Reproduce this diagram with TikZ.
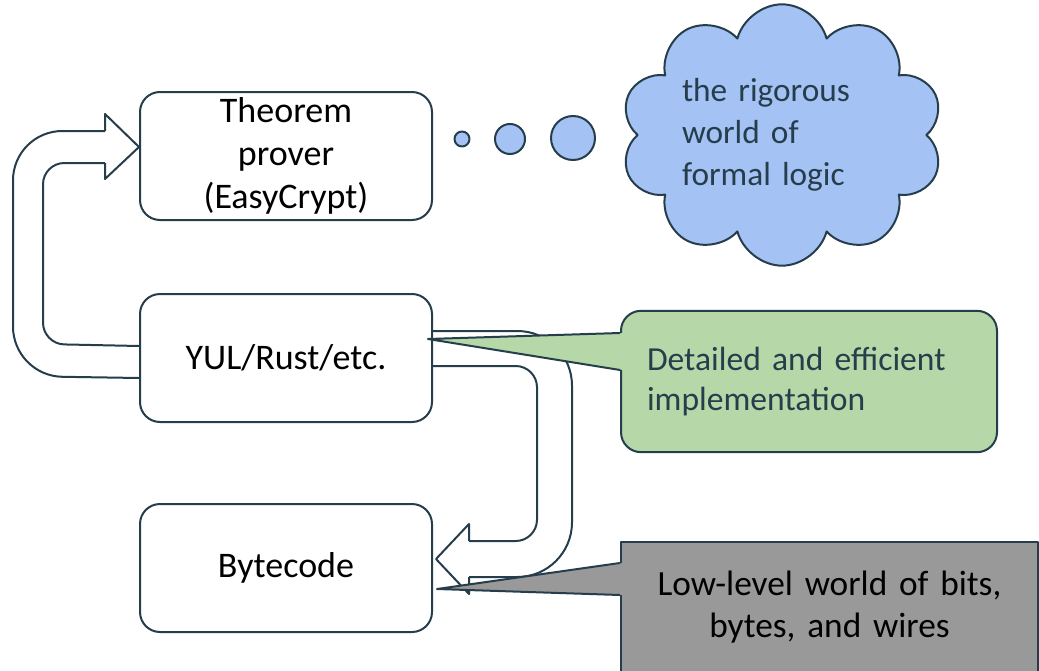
\documentclass[tikz,border=0pt]{standalone}
\usepackage{fontspec}
\setmainfont{Carlito}
\usepackage{xcolor}
\definecolor{Slate}{HTML}{263E4B}
\definecolor{CloudBlue}{HTML}{A4C2F4}
\definecolor{NoteGreen}{HTML}{B6D7A8}
\definecolor{NoteGray}{HTML}{999999}
\usepackage{tikz}
\usetikzlibrary{positioning,shapes.symbols,calc}

\begin{document}
\begin{tikzpicture}[x=0.75pt, y=-0.75pt, line width=1.5pt, line join=round,
    block/.style={
    draw=Slate,
    rectangle,
    rounded corners=15pt,
    minimum width=219pt,
    minimum height=96pt,
    align=center,
    font=\fontsize{27}{32}\selectfont},
    pipe/.style={draw=Slate},
    bubble/.style={draw=Slate, fill=CloudBlue, circle, inner sep=0pt},
    note/.style={draw=Slate, rectangle, font=\fontsize{25.2}{30}\selectfont}]
    \useasboundingbox (0,0) rectangle (1039,671);

    \node [block] at (286,156) (Theorem) {Theorem\\prover\\(EasyCrypt)};
    \node [block, below=54pt of Theorem] (Yul) {YUL/Rust/etc.};
    \node [block, below=60pt of Yul] (Bytecode) {Bytecode};

    % back up to the prover
    \draw[pipe, rounded corners=37pt] ([yshift=-15pt]Yul.west) -- (13,376) -- (13,131) -- (105,131);
    \draw[pipe] (105,131) -- (105,114) -- (Theorem.west |- 0,147) -- (105,179) -- (105,163);
    \draw[pipe, rounded corners=16pt] (105,163) -- (43,163) -- (43,344) -- ([yshift=9pt]Yul.west);

    % down to the bytecode
    \draw[pipe, rounded corners=41pt] (Yul.east |- 0,331) -- (572,331) -- (572,577) -- (469,577);
    \draw[pipe] (469,577) -- (469,594) -- ($(Bytecode.east |- 0,559)+(3,0)$) -- (469,524) -- (469,541);
    \draw[pipe, rounded corners=16pt] (469,541) -- (537,541) -- (537,366) -- (Yul.east |- 0,366);

    \node [bubble, minimum size=11.25pt] at (462,139) (Bubble1) {};
    \node [bubble, minimum size=22.5pt] at (510,139) (Bubble2) {};
    \node [bubble, minimum size=33pt] at (573,138) (Bubble3) {};

    \node [cloud, cloud puffs=10, cloud ignores aspect, draw=Slate, fill=CloudBlue,
           minimum width=242pt, minimum height=196pt,
           text width=150pt, align=left, text=Slate,
           font=\fontsize{25}{31.5}\selectfont] at (782,135) (Cloud) {the rigorous\\world of\\formal logic};

    \node [note, fill=NoteGreen, rounded corners=15pt,
           minimum width=282pt, minimum height=106pt,
           text width=243pt, align=left, text=Slate] at (809,381.5) (Detail) {Detailed and efficient\\implementation};
    \node [note, fill=NoteGray,
           minimum width=313pt, minimum height=97.5pt,
           text width=300pt, align=center, text=black,
           font=\fontsize{26.5}{31}\selectfont] at (829.5,607) (LowLevel) {Low-level world of bits,\\bytes, and wires};

    \coordinate (DetailTip) at (428,339);
    \coordinate (LowTip) at (437,589);

    \fill[NoteGreen] ($(Detail.west |- 0,333)+(3,0)$) -- (DetailTip) -- ($(Detail.west |- 0,370)+(3,0)$) -- cycle;
    \draw[pipe] (Detail.west |- 0,333) -- (DetailTip) -- (Detail.west |- 0,370);
    \fill[NoteGray] ($(LowLevel.west |- 0,563)+(3,0)$) -- (LowTip) -- ($(LowLevel.west |- 0,595)+(3,0)$) -- cycle;
    \draw[pipe] (LowLevel.west |- 0,563) -- (LowTip) -- (LowLevel.west |- 0,595);
\end{tikzpicture}
\end{document}
